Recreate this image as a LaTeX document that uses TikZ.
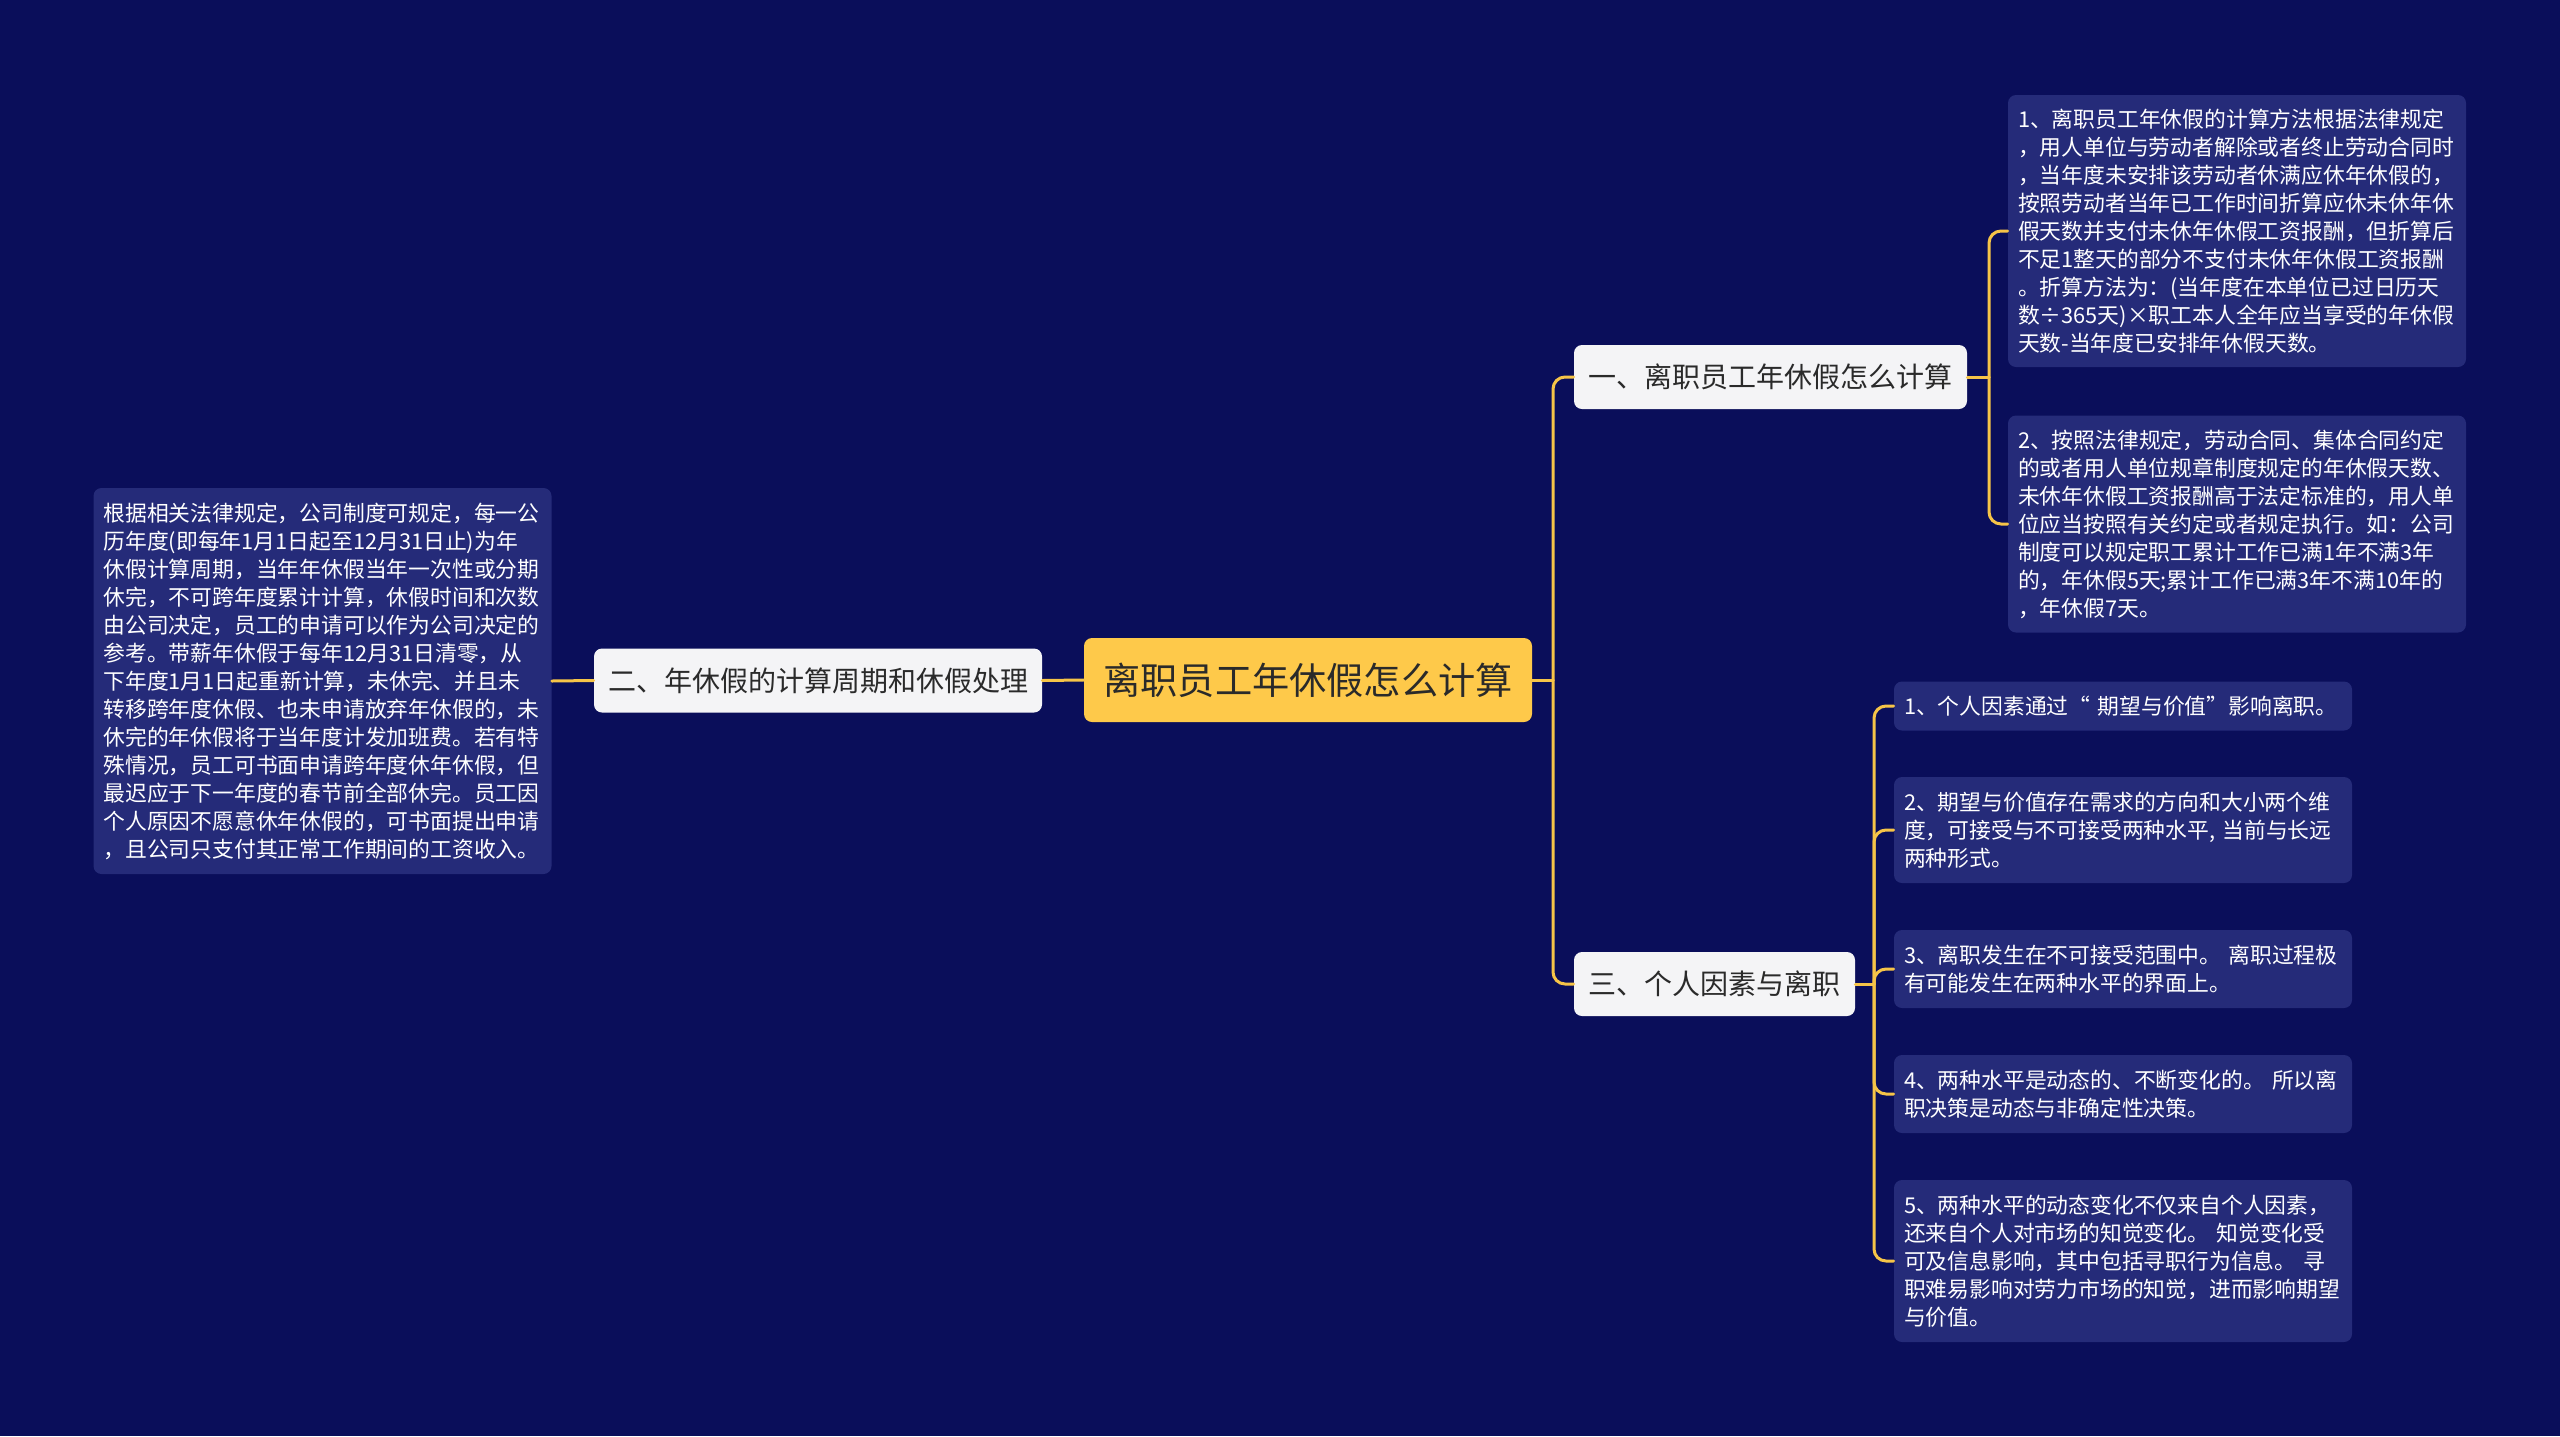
\documentclass[tikz,border=0pt]{standalone}
\usepackage{fontspec}
\setmainfont{Noto Sans CJK SC}
\usepackage{xcolor}

\definecolor{bgnavy}{HTML}{0A0E5A}
\definecolor{leafnavy}{HTML}{252B79}
\definecolor{linegold}{HTML}{F6C448}
\definecolor{rootgold}{HTML}{FEC94A}
\definecolor{topicwhite}{HTML}{F4F4F6}
\definecolor{darktext}{HTML}{2A2A2A}

\begin{document}
\begin{tikzpicture}[x=0.5pt, y=-0.5pt, line cap=round, line join=round,
  link/.style={draw=linegold, line width=1.5pt},
  rootbox/.style={fill=rootgold, rounded corners=4pt, text=darktext,
    font=\fontsize{18.6}{22}\selectfont, minimum width=224pt, minimum height=42pt, inner sep=0pt},
  topicbox/.style={fill=topicwhite, rounded corners=4pt, text=darktext,
    font=\fontsize{14}{17}\selectfont, minimum height=32pt, inner sep=0pt},
  leafbox/.style={fill=leafnavy, rounded corners=4pt, text=white,
    font=\fontsize{10.9}{14}\selectfont, text width=219pt, inner xsep=5pt, inner ysep=0pt, align=left}]

  % ---- Background ----
  \fill[bgnavy] (0,0) rectangle (2560,1436);
  \useasboundingbox (0,0) rectangle (2560,1436);

  % Parameters (pixel positions of the forks)
  \def\xRootFork{1553}
  \def\xOneFork{1989}
  \def\xThreeFork{1874}

  % ---- Central topic ----
  \node[rootbox] (root) at (1308,680) {离职员工年休假怎么计算};

  % ---- Main branches ----
  \node[topicbox, minimum width=196.5pt] (one) at (1770.5,377) {一、离职员工年休假怎么计算};
  \node[topicbox, minimum width=224pt] (two) at (818,680.5) {二、年休假的计算周期和休假处理};
  \node[topicbox, minimum width=140.5pt] (three) at (1714.5,984) {三、个人因素与离职};

  % ---- Details of branch one ----
  \node[leafbox, minimum height=136pt] (onea) at (2237,231) {1、离职员工年休假的计算方法根据法律规定\\
    ，用人单位与劳动者解除或者终止劳动合同时\\
    ，当年度未安排该劳动者休满应休年休假的，\\
    按照劳动者当年已工作时间折算应休未休年休\\
    假天数并支付未休年休假工资报酬，但折算后\\
    不足1整天的部分不支付未休年休假工资报酬\\
    。折算方法为：(当年度在本单位已过日历天\\
    数÷365天)×职工本人全年应当享受的年休假\\
    天数-当年度已安排年休假天数。};
  \node[leafbox, minimum height=108.5pt] (oneb) at (2237,524) {2、按照法律规定，劳动合同、集体合同约定\\
    的或者用人单位规章制度规定的年休假天数、\\
    未休年休假工资报酬高于法定标准的，用人单\\
    位应当按照有关约定或者规定执行。如：公司\\
    制度可以规定职工累计工作已满1年不满3年\\
    的，年休假5天;累计工作已满3年不满10年的\\
    ，年休假7天。};

  % ---- Detail of branch two ----
  \node[leafbox, minimum height=193pt] (twoa) at (322.5,681) {根据相关法律规定，公司制度可规定，每一公\\
    历年度(即每年1月1日起至12月31日止)为年\\
    休假计算周期，当年年休假当年一次性或分期\\
    休完，不可跨年度累计计算，休假时间和次数\\
    由公司决定，员工的申请可以作为公司决定的\\
    参考。带薪年休假于每年12月31日清零，从\\
    下年度1月1日起重新计算，未休完、并且未\\
    转移跨年度休假、也未申请放弃年休假的，未\\
    休完的年休假将于当年度计发加班费。若有特\\
    殊情况，员工可书面申请跨年度休年休假，但\\
    最迟应于下一年度的春节前全部休完。员工因\\
    个人原因不愿意休年休假的，可书面提出申请\\
    ，且公司只支付其正常工作期间的工资收入。};

  % ---- Details of branch three ----
  \node[leafbox, minimum height=24.5pt] (threea) at (2123,706) {1、个人因素通过“ 期望与价值”影响离职。};
  \node[leafbox, minimum height=53pt] (threeb) at (2123,830) {2、期望与价值存在需求的方向和大小两个维\\
    度，可接受与不可接受两种水平, 当前与长远\\
    两种形式。};
  \node[leafbox, minimum height=39pt] (threec) at (2123,969) {3、离职发生在不可接受范围中。 离职过程极\\
    有可能发生在两种水平的界面上。};
  \node[leafbox, minimum height=39pt] (threed) at (2123,1094) {4、两种水平是动态的、不断变化的。 所以离\\
    职决策是动态与非确定性决策。};
  \node[leafbox, minimum height=81pt] (threee) at (2123,1261) {5、两种水平的动态变化不仅来自个人因素，\\
    还来自个人对市场的知觉变化。 知觉变化受\\
    可及信息影响，其中包括寻职行为信息。 寻\\
    职难易影响对劳力市场的知觉，进而影响期望\\
    与价值。};

  % ---- Connectors ----
  \coordinate (rootfork) at (\xRootFork,680);
  \coordinate (onefork) at (\xOneFork,377);
  \coordinate (threefork) at (\xThreeFork,984);

  \draw[link] (root.west) -- (two.east);
  \draw[link] (two.west) -- (twoa.east);

  \draw[link] (root.east) -- (rootfork);
  \draw[link, rounded corners=6pt] (rootfork) |- (one.west);
  \draw[link, rounded corners=6pt] (rootfork) |- (three.west);

  \draw[link] (one.east) -- (onefork);
  \foreach \leaf in {onea,oneb}{
    \draw[link, rounded corners=6pt] (onefork) |- (\leaf.west);
  }

  \draw[link] (three.east) -- (threefork);
  \foreach \leaf in {threea,threeb,threec,threed,threee}{
    \draw[link, rounded corners=6pt] (threefork) |- (\leaf.west);
  }

\end{tikzpicture}
\end{document}
